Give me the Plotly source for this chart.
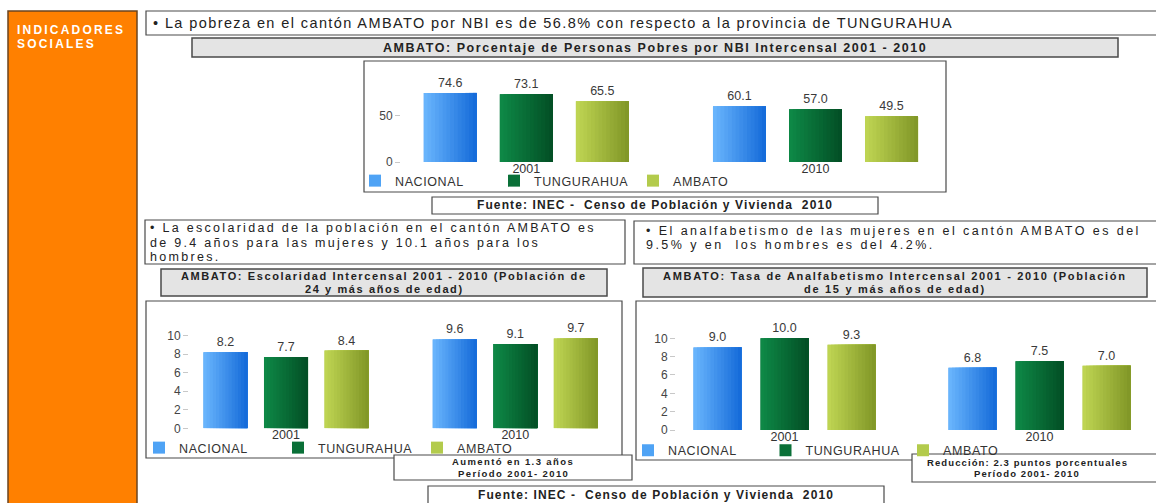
import plotly.graph_objects as go

W, H = 1156, 503
FONT = "Arial, 'Liberation Sans', sans-serif"

# ---- data -------------------------------------------------------------
years = ["2001", "2010"]
series_names = ["NACIONAL", "TUNGURAHUA", "AMBATO"]

pobreza_nacional = [74.6, 60.1]
pobreza_tungurahua = [73.1, 57.0]
pobreza_ambato = [65.5, 49.5]

escolaridad_nacional = [8.2, 9.6]
escolaridad_tungurahua = [7.7, 9.1]
escolaridad_ambato = [8.4, 9.7]

analfabetismo_nacional = [9.0, 6.8]
analfabetismo_tungurahua = [10.0, 7.5]
analfabetismo_ambato = [9.3, 7.0]

pobreza_ticks = [0, 50]
years_ticks = [0, 2, 4, 6, 8, 10]

# ---- helpers ----------------------------------------------------------
def fx(px):
    return px / W


def fy(py):
    return 1 - py / H


def spaced(s, ls):
    return '<span style="letter-spacing:%.2fpx">%s</span>' % (ls, s)


# light -> dark horizontal gradient per series, plus legend swatch colour
PALETTE = {
    "NACIONAL": ((104, 180, 252), (22, 108, 218), "#4fa3f5"),
    "TUNGURAHUA": ((14, 136, 70), (3, 80, 38), "#0a7038"),
    "AMBATO": ((190, 212, 82), (130, 152, 40), "#b3cb4c"),
}


def lerp(c0, c1, t):
    return "rgb(%d,%d,%d)" % tuple(round(a + (b - a) * t) for a, b in zip(c0, c1))


fig = go.Figure()


def add_chart(idx, values, bar_w, step, legend_name):
    """Grouped bars with a horizontal shading, one legend per chart."""
    xa = "x" if idx == 1 else "x%d" % idx
    ya = "y" if idx == 1 else "y%d" % idx
    n_slices = 14
    for i, (name, vals) in enumerate(zip(series_names, values)):
        light, dark, swatch = PALETTE[name]
        base_off = (i - 1) * step - bar_w / 2
        fig.add_trace(go.Bar(
            x=years, y=vals, name=spaced(name, 0.6), xaxis=xa, yaxis=ya,
            width=bar_w, offset=base_off,
            marker=dict(color=swatch, line=dict(width=0)),
            texttemplate="%{y:.1f}", textposition="outside",
            textfont=dict(family=FONT, size=12.5, color="#3a3a3a"),
            constraintext="none", cliponaxis=False,
            legend=legend_name, showlegend=True, hoverinfo="skip",
        ))
        for k in range(n_slices):
            t = k / (n_slices - 1)
            fig.add_trace(go.Bar(
                x=years, y=vals, xaxis=xa, yaxis=ya,
                width=bar_w * (n_slices - k) / n_slices,
                offset=base_off + bar_w * k / n_slices,
                marker=dict(color=lerp(light, dark, t), line=dict(width=0)),
                showlegend=False, hoverinfo="skip", legend=legend_name,
            ))


add_chart(1, [pobreza_nacional, pobreza_tungurahua, pobreza_ambato],
          bar_w=0.183, step=0.263, legend_name="legend")
add_chart(2, [escolaridad_nacional, escolaridad_tungurahua, escolaridad_ambato],
          bar_w=0.192, step=0.264, legend_name="legend2")
add_chart(3, [analfabetismo_nacional, analfabetismo_tungurahua, analfabetismo_ambato],
          bar_w=0.188, step=0.263, legend_name="legend3")

# ---- frames and boxes -------------------------------------------------
shapes = []


def box(x0, y0, x1, y1, fill="white", color="#4a4a4a", width=1.2):
    shapes.append(dict(type="rect", xref="paper", yref="paper",
                       x0=fx(x0), x1=fx(x1), y0=fy(y1), y1=fy(y0),
                       fillcolor=fill, line=dict(color=color, width=width),
                       layer="below"))


box(8, 11, 137, 520, fill="#ff8000", color="#6b4420", width=1.5)   # side panel
box(146, 11, 1170, 35)                                              # statement
box(192, 38, 1118, 57, fill="#e4e4e4", width=1.5)                  # title 1
box(364, 61, 946, 192)                                              # chart 1
box(432, 197, 878, 214)                                             # source 1
box(145, 220, 625, 264)                                             # statement 2
box(634, 221, 1170, 264)                                            # statement 3
box(161, 269, 607, 296, fill="#e4e4e4", width=1.5)                 # title 2
box(643, 268, 1147, 297, fill="#e4e4e4", width=1.5)                # title 3
box(146, 301, 622, 458)                                             # chart 2
box(636, 301, 1170, 460)                                            # chart 3
box(394, 455, 632, 480)                                             # note 2
box(912, 454, 1170, 482)                                            # note 3
box(428, 486, 884, 520)                                             # source 2

# ---- texts ------------------------------------------------------------
annotations = []


def text(s, x, y, size, ls=0.0, anchor="left", bold=False, color="#222222"):
    annotations.append(dict(
        text=spaced(s, ls) if ls else s, x=fx(x), y=fy(y),
        xref="paper", yref="paper", borderpad=0,
        xanchor=anchor, yanchor="middle", showarrow=False,
        font=dict(family=FONT, size=size, color=color,
                  weight="bold" if bold else "normal"),
    ))


text("INDICADORES", 16, 30, 12, ls=2.2, bold=True, color="#ffffff")
text("SOCIALES", 16, 43.5, 12, ls=2.2, bold=True, color="#ffffff")

text("• La pobreza en el cantón AMBATO por NBI es de 56.8% con respecto a la provincia de TUNGURAHUA",
     152, 23, 14.5, ls=1.4)
text("AMBATO: Porcentaje de Personas Pobres por NBI Intercensal 2001 - 2010",
     655, 47.5, 12.5, ls=1.55, anchor="center", bold=True)
src = "Fuente: INEC -  Censo de Población y Vivienda  2010"
text(src, 655, 205.5, 12, ls=1.1, anchor="center", bold=True)

text("• La escolaridad de la población en el cantón AMBATO es", 149, 228, 12.5, ls=2.3)
text("de 9.4 años para las mujeres y 10.1 años para los", 149, 242.5, 12.5, ls=2.3)
text("hombres.", 149, 257, 12.5, ls=2.3)

text("• El analfabetismo de las mujeres en el cantón AMBATO es del", 645, 231, 12.5, ls=2.45)
text("9.5% y en  los hombres es del 4.2%.", 645, 245, 12.5, ls=2.45)

text("AMBATO: Escolaridad Intercensal 2001 - 2010 (Población de", 384, 276, 11,
     ls=1.6, anchor="center", bold=True)
text("24 y más años de edad)", 384, 289, 11, ls=1.6, anchor="center", bold=True)

text("AMBATO: Tasa de Analfabetismo Intercensal 2001 - 2010 (Población", 895, 276, 11,
     ls=1.7, anchor="center", bold=True)
text("de 15 y más años de edad)", 895, 289, 11, ls=1.7, anchor="center", bold=True)

text("Aumentó en 1.3 años", 513, 461.5, 9.5, ls=1.4, anchor="center", bold=True)
text("Período 2001- 2010", 513, 473, 9.5, ls=1.4, anchor="center", bold=True)

text("Reducción: 2.3 puntos porcentuales", 1027, 462, 9.5, ls=1.1, anchor="center", bold=True)
text("Período 2001- 2010", 1027, 473.5, 9.5, ls=1.1, anchor="center", bold=True)

text(src, 656, 495, 12, ls=1.1, anchor="center", bold=True)

# ---- axes -------------------------------------------------------------
def x_axis(left, right, c0, c1):
    unit = c1 - c0
    return dict(type="category", domain=[fx(left), fx(right)],
                range=[-(c0 - left) / unit, 1 + (right - c1) / unit],
                showgrid=False, zeroline=False, showline=False, ticks="",
                ticklabelstandoff=-3,
                tickfont=dict(family=FONT, size=12.5, color="#333333"),
                fixedrange=True)


def y_axis(bottom, top, per_unit, tickvals, pos, size):
    return dict(domain=[fy(bottom), fy(top)], range=[0, (bottom - top) / per_unit],
                tickmode="array", tickvals=tickvals,
                showgrid=False, zeroline=False, showline=False,
                anchor="free", position=fx(pos), ticks="outside", ticklen=5,
                tickcolor="#c8c8c8", tickfont=dict(family=FONT, size=size, color="#444444"),
                fixedrange=True)


legend_common = dict(orientation="h", xanchor="left", yanchor="middle",
                     entrywidthmode="pixels", entrywidth=94, bgcolor="rgba(0,0,0,0)",
                     font=dict(family=FONT, size=12.5, color="#333333"),
                     traceorder="normal", itemclick=False, itemdoubleclick=False)

fig.update_layout(
    width=W, height=H,
    margin=dict(l=0, r=0, t=0, b=0, autoexpand=False),
    paper_bgcolor="white", plot_bgcolor="rgba(0,0,0,0)",
    barmode="overlay", hovermode=False,
    xaxis=dict(x_axis(364, 946, 526.3, 815.5), anchor="y"),
    yaxis=y_axis(162, 66, 0.926, pobreza_ticks, 400, 12),
    xaxis2=dict(x_axis(146, 622, 286.0, 515.3), anchor="y2"),
    yaxis2=y_axis(428.3, 310, 9.26, years_ticks, 188, 12),
    xaxis3=dict(x_axis(634, 1156, 784.5, 1039.5), anchor="y3"),
    yaxis3=y_axis(430, 310, 9.17, years_ticks, 675, 12),
    legend=dict(legend_common, x=fx(355), y=fy(181)),
    legend2=dict(legend_common, x=fx(139), y=fy(448)),
    legend3=dict(legend_common, x=fx(628), y=fy(450.5), entrywidth=92.5),
    shapes=shapes, annotations=annotations,
    showlegend=True,
)

fig.write_html("out.html", config={"displayModeBar": False})
